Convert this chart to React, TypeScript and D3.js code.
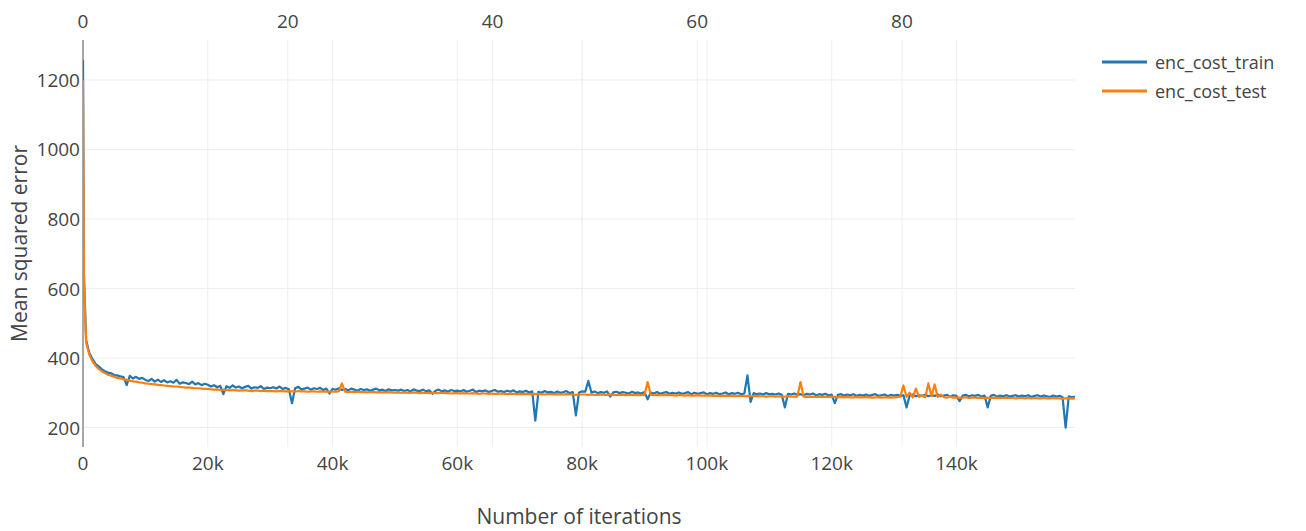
// App.tsx
import React, { useEffect, useRef } from 'react';
import * as d3 from 'd3';

// iterations logged (first two are the warm-up points, then every 500)
const iterations = [0, 150, ...d3.range(500, 159001, 500)];

const encCostTrain = [
  1258, 640,
  452, 415, 398, 383, 376, 368, 362, 358, 356, 351, 350, 347, 345, 322, 349, 341, 346, 340, 343, 337,
  334, 340, 332, 338, 331, 336, 330, 333, 329, 337, 326, 330, 328, 325, 332, 324, 328, 322, 326, 323,
  318, 322, 316, 320, 296, 319, 314, 321, 315, 318, 313, 317, 320, 312, 316, 314, 319, 311, 315, 313,
  316, 312, 318, 311, 314, 310, 270, 313, 317, 310, 312, 315, 309, 313, 311, 314, 308, 312, 298, 311,
  309, 313, 308, 311, 307, 312, 309, 306, 311, 308, 310, 306, 309, 312, 307, 309, 305, 310, 307, 308,
  306, 309, 305, 308, 304, 310, 306, 305, 309, 304, 307, 297, 306, 309, 304, 307, 303, 308, 305, 306,
  304, 308, 303, 306, 309, 302, 306, 304, 307, 302, 305, 308, 303, 305, 302, 306, 303, 307, 301, 304,
  302, 306, 301, 304, 220, 303, 300, 305, 301, 303, 299, 304, 300, 302, 305, 299, 302, 235, 301, 304,
  303, 334, 300, 304, 299, 302, 300, 304, 289, 301, 303, 299, 302, 300, 298, 303, 299, 301, 298, 302,
  281, 301, 298, 302, 297, 300, 302, 297, 300, 298, 301, 297, 299, 302, 296, 300, 297, 299, 301, 296,
  299, 297, 300, 296, 298, 301, 296, 299, 297, 300, 295, 298, 350, 274, 299, 296, 298, 295, 299, 296,
  297, 295, 298, 294, 258, 297, 295, 298, 294, 296, 293, 297, 295, 298, 293, 296, 294, 297, 292, 295,
  270, 294, 296, 292, 295, 293, 296, 291, 294, 292, 295, 291, 294, 296, 291, 293, 295, 290, 294, 292,
  294, 291, 293, 258, 292, 295, 290, 293, 291, 294, 290, 293, 291, 295, 290, 292, 294, 289, 293, 291,
  276, 292, 294, 290, 293, 291, 294, 289, 292, 258, 291, 294, 289, 292, 290, 293, 289, 291, 293, 289,
  292, 290, 293, 288, 291, 293, 289, 292, 290, 288, 292, 289, 291, 288, 200, 290, 287, 289,
];

const encCostTest = [
  1200, 620,
  445, 410, 391, 378, 369, 362, 357, 352, 349, 346, 343, 341, 339, 337, 335, 333, 332, 330, 329, 327,
  326, 325, 324, 323, 322, 321, 320, 319, 318, 318, 317, 316, 315, 315, 314, 313, 313, 312, 311, 311,
  310, 309, 310, 308, 309, 308, 307, 308, 307, 306, 307, 307, 306, 305, 306, 306, 305, 306, 305, 305,
  305, 304, 305, 305, 304, 305, 304, 303, 305, 304, 304, 303, 304, 304, 303, 304, 303, 304, 303, 303,
  303, 304, 327, 303, 302, 303, 302, 303, 302, 302, 301, 302, 302, 301, 302, 301, 301, 302, 301, 300,
  301, 300, 301, 300, 300, 301, 300, 299, 300, 300, 299, 300, 299, 299, 300, 299, 299, 298, 299, 299,
  298, 299, 298, 298, 299, 298, 297, 298, 298, 297, 298, 297, 297, 298, 297, 296, 297, 297, 296, 297,
  296, 297, 296, 296, 297, 296, 296, 295, 296, 296, 295, 296, 295, 295, 296, 295, 295, 294, 295, 295,
  295, 294, 295, 294, 294, 295, 294, 294, 295, 294, 293, 294, 294, 293, 294, 294, 293, 294, 293, 294,
  331, 294, 293, 294, 293, 293, 294, 293, 293, 292, 293, 293, 292, 293, 292, 292, 293, 292, 292, 292,
  292, 291, 292, 291, 291, 292, 291, 291, 290, 291, 291, 290, 291, 290, 290, 291, 290, 290, 289, 290,
  290, 289, 290, 289, 289, 290, 289, 289, 289, 331, 289, 288, 289, 288, 288, 289, 288, 288, 288, 288,
  288, 287, 288, 287, 288, 287, 287, 288, 287, 287, 288, 287, 286, 287, 287, 286, 287, 287, 286, 287,
  287, 289, 321, 288, 300, 287, 312, 288, 292, 287, 327, 290, 324, 288, 295, 287, 286, 290, 286, 286,
  286, 286, 287, 285, 286, 286, 285, 286, 285, 286, 285, 285, 286, 285, 285, 286, 285, 285, 284, 285,
  285, 284, 285, 284, 285, 284, 284, 285, 284, 284, 285, 284, 284, 283, 284, 284, 283, 284,
];

const iterationTicks = [0, 20000, 40000, 60000, 80000, 100000, 120000, 140000];
const epochTicks = [0, 20, 40, 60, 80];
const errorTicks = [200, 400, 600, 800, 1000, 1200];

const seriesNames = ['enc_cost_train', 'enc_cost_test'];
const seriesColors = ['#1f77b4', '#ff7f0e'];

const maxIteration = 159000;
const maxEpoch = 96.9;
const errorRange = [144, 1315];

const App = () => {
  const d3Container = useRef<HTMLDivElement>(null);
  const width = 1306;
  const height = 531;
  const plot = { left: 83, right: 1075, top: 40, bottom: 447 };
  const font = '"Open Sans", "Noto Sans", Arial, sans-serif';

  useEffect(() => {
    if (!d3Container.current) return;
    d3.select(d3Container.current).selectAll('*').remove();

    const svg = d3.select(d3Container.current)
      .append('svg')
      .attr('width', width)
      .attr('height', height)
      .style('display', 'block')
      .style('font-family', font);

    svg.append('rect').attr('width', width).attr('height', height).attr('fill', '#fff');

    const x = d3.scaleLinear().domain([0, maxIteration]).range([plot.left, plot.right]);
    const xTop = d3.scaleLinear().domain([0, maxEpoch]).range([plot.left, plot.right]);
    const y = d3.scaleLinear().domain(errorRange).range([plot.bottom, plot.top]);

    // grid
    const grid = svg.append('g').attr('stroke', '#eee').attr('stroke-width', 1);
    grid.selectAll('.gy')
      .data(errorTicks)
      .join('line')
      .attr('x1', plot.left).attr('x2', plot.right)
      .attr('y1', d => y(d)).attr('y2', d => y(d));
    grid.selectAll('.gx')
      .data(iterationTicks.slice(1))
      .join('line')
      .attr('x1', d => x(d)).attr('x2', d => x(d))
      .attr('y1', plot.top).attr('y2', plot.bottom);
    grid.selectAll('.gt')
      .data(epochTicks.slice(1))
      .join('line')
      .attr('x1', d => xTop(d)).attr('x2', d => xTop(d))
      .attr('y1', plot.top).attr('y2', plot.bottom);

    // zero line of the x axis
    svg.append('line')
      .attr('x1', x(0)).attr('x2', x(0))
      .attr('y1', plot.top).attr('y2', plot.bottom)
      .attr('stroke', '#8a8a8a').attr('stroke-width', 1.5);

    // lines
    svg.append('clipPath').attr('id', 'plot-clip')
      .append('rect')
      .attr('x', plot.left).attr('y', plot.top)
      .attr('width', plot.right - plot.left).attr('height', plot.bottom - plot.top);

    const line = d3.line<number>()
      .x((d, i) => x(iterations[i]))
      .y(d => y(d));

    [encCostTrain, encCostTest].forEach((values, i) => {
      svg.append('path')
        .attr('clip-path', 'url(#plot-clip)')
        .attr('d', line(values))
        .attr('fill', 'none')
        .attr('stroke', seriesColors[i])
        .attr('stroke-width', 2.2)
        .attr('stroke-linejoin', 'round');
    });

    // tick labels
    const tickStyle = (sel: any) => sel.attr('fill', '#444').style('font-size', '19px');
    svg.append('g').selectAll('text')
      .data(errorTicks)
      .join('text')
      .attr('x', plot.left - 3)
      .attr('y', d => y(d) + 7)
      .attr('text-anchor', 'end')
      .text(d => d)
      .call(tickStyle);
    svg.append('g').selectAll('text')
      .data(iterationTicks)
      .join('text')
      .attr('x', d => x(d))
      .attr('y', 470)
      .attr('text-anchor', 'middle')
      .text(d => (d === 0 ? '0' : `${d / 1000}k`))
      .call(tickStyle);
    svg.append('g').selectAll('text')
      .data(epochTicks)
      .join('text')
      .attr('x', d => xTop(d))
      .attr('y', 28)
      .attr('text-anchor', 'middle')
      .text(d => d)
      .call(tickStyle);

    // axis titles
    svg.append('text')
      .attr('x', (plot.left + plot.right) / 2)
      .attr('y', 524)
      .attr('text-anchor', 'middle')
      .attr('fill', '#444')
      .style('font-size', '21px')
      .text('Number of iterations');
    svg.append('text')
      .attr('transform', `translate(27,${(plot.top + plot.bottom) / 2}) rotate(-90)`)
      .attr('text-anchor', 'middle')
      .attr('fill', '#444')
      .style('font-size', '21px')
      .text('Mean squared error');

    // legend
    const legend = svg.append('g').selectAll('g')
      .data(seriesNames)
      .join('g')
      .attr('transform', (d, i) => `translate(1102,${62 + i * 29})`);
    legend.append('line')
      .attr('x1', 0).attr('x2', 45)
      .attr('stroke', (d, i) => seriesColors[i])
      .attr('stroke-width', 3);
    legend.append('text')
      .attr('x', 53)
      .attr('y', 6.5)
      .attr('fill', '#444')
      .style('font-size', '18px')
      .text(d => d);
  }, []);

  return (
    <div
      className="EncCostChart"
      ref={d3Container}
      style={{ position: 'absolute', left: 0, top: 0 }}
    />
  );
};

export default App;
